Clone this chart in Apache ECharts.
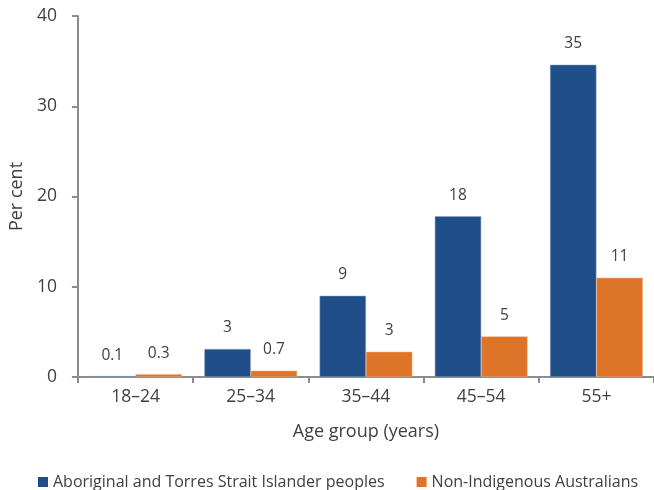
<!DOCTYPE html>
<html>
<head>
<meta charset="utf-8">
<script src="https://cdn.jsdelivr.net/npm/echarts@6/dist/echarts.min.js"></script>
<style>html,body{margin:0;padding:0;background:#fff}#c{width:654px;height:490px}</style>
</head>
<body>
<div id="c"></div>
<script>
var categories = ['18\u201324', '25\u201334', '35\u201344', '45\u201354', '55+'];
var seriesNames = ['Aboriginal and Torres Strait Islander peoples', 'Non-Indigenous Australians'];
var indigenousValues = [0.1, 3.1, 9.0, 17.8, 34.6];
var nonIndigenousValues = [0.3, 0.7, 2.8, 4.5, 11.0];
var indigenousLabels = ['0.1', '3', '9', '18', '35'];
var nonIndigenousLabels = ['0.3', '0.7', '3', '5', '11'];
var yTicks = [0, 10, 20, 30, 40];

var FONT = '"Open Sans", "Noto Sans", sans-serif';
var TXT = '#404040';
var AX = '#8c8c8c';

function mkLabel(arr) {
  return {
    show: true, position: 'top', distance: 13,
    fontFamily: FONT, fontSize: 15.5, color: TXT,
    formatter: function (p) { return arr[p.dataIndex]; }
  };
}

var chart = echarts.init(document.getElementById('c'), null, {renderer: 'canvas'});
chart.setOption({
  animation: false,
  textStyle: {fontFamily: FONT},
  grid: {left: 77, right: 0, top: 16, bottom: 113, containLabel: false},
  legend: {
    top: 469, left: 33,
    itemWidth: 10, itemHeight: 10, itemGap: 32,
    icon: 'rect',
    itemStyle: {borderWidth: 0},
    textStyle: {fontFamily: FONT, fontSize: 16, color: TXT, padding: [0, 0, 0, 0]},
    data: seriesNames
  },
  xAxis: {
    type: 'category', data: categories,
    name: 'Age group (years)', nameLocation: 'middle', nameGap: 46,
    nameTextStyle: {fontFamily: FONT, fontSize: 18, color: TXT},
    axisLine: {lineStyle: {color: AX, width: 2}},
    axisTick: {show: true, length: 6, alignWithLabel: false, lineStyle: {color: AX, width: 2}},
    axisLabel: {fontFamily: FONT, fontSize: 17.5, color: TXT, margin: 11}
  },
  yAxis: {
    type: 'value', min: yTicks[0], max: yTicks[yTicks.length - 1], interval: 10,
    name: 'Per cent', nameLocation: 'middle', nameGap: 49,
    nameTextStyle: {fontFamily: FONT, fontSize: 18, color: TXT},
    axisLine: {show: true, lineStyle: {color: AX, width: 2}},
    axisTick: {show: true, length: 6, lineStyle: {color: AX, width: 2}},
    axisLabel: {fontFamily: FONT, fontSize: 17.5, color: TXT, margin: 21},
    splitLine: {show: false}
  },
  series: [
    {
      name: seriesNames[0], type: 'bar', data: indigenousValues,
      barGap: '0%', barCategoryGap: '19.5%',
      itemStyle: {color: '#1f4e89', borderColor: '#8fa7c7', borderWidth: 0.5},
      label: mkLabel(indigenousLabels)
    },
    {
      name: seriesNames[1], type: 'bar', data: nonIndigenousValues,
      barGap: '0%', barCategoryGap: '19.5%',
      itemStyle: {color: '#de7428', borderColor: '#f0b48a', borderWidth: 0.5},
      label: mkLabel(nonIndigenousLabels)
    }
  ]
});
</script>
</body>
</html>
